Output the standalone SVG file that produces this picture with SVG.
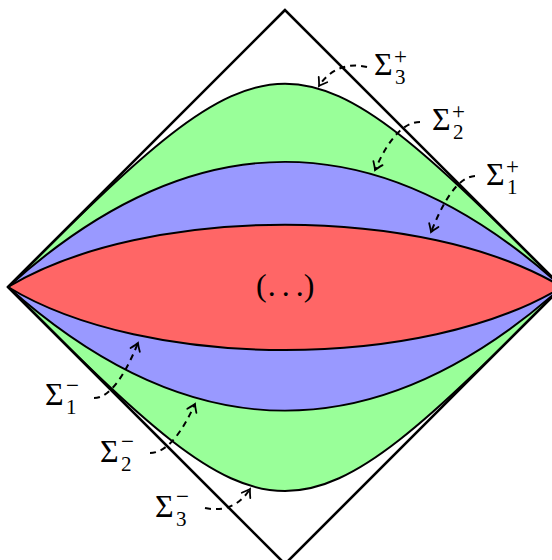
<svg xmlns="http://www.w3.org/2000/svg" width="552" height="560" viewBox="0 0 552 560">
<style>
.lens{stroke:#000;stroke-width:2;stroke-linejoin:round}
.frame{fill:none;stroke:#000;stroke-width:2.6;stroke-linejoin:miter}
.arr{fill:none;stroke:#000;stroke-width:2;stroke-dasharray:6 5;marker-end:url(#ah)}
.s{font-family:"Liberation Serif","DejaVu Serif",serif;font-size:32px;fill:#000}
.sub{font-family:"Liberation Serif","DejaVu Serif",serif;font-size:21px;fill:#000}
.sup{font-family:"Liberation Serif","DejaVu Serif",serif;font-size:23px;fill:#000}
</style>
<defs>
<marker id="ah" markerUnits="userSpaceOnUse" markerWidth="14" markerHeight="14" viewBox="-9 -7 11 14" refX="0" refY="0" orient="auto">
<path d="M -7.5,-5 Q -2,-1 0,0 Q -2,1 -7.5,5" fill="none" stroke="#000" stroke-width="1.8" stroke-dasharray="none" stroke-linecap="round"/>
</marker>
</defs>
<rect width="552" height="560" fill="#fff"/>
<g id="green-region"><path class="lens" fill="#99FF99" d="M 8,287 C 279,16 291,16 562,287 C 291,559 279,559 8,287 Z"/></g>
<g id="blue-region"><path class="lens" fill="#9999FF" d="M 8,287 C 193,120 377,120 562,287 C 377,452 193,452 8,287 Z"/></g>
<g id="red-region"><path class="lens" fill="#FF6666" d="M 8,287 C 146,204 424,204 562,287 C 424,371 146,371 8,287 Z"/></g>
<g id="frame"><polygon class="frame" points="285,10 8,287 285,564 562,287"/></g>
<g id="center-label"><text class="s" x="256" y="296">(<tspan dx="1">.</tspan><tspan dx="6">.</tspan><tspan dx="6">.</tspan><tspan dx="0">)</tspan></text></g>
<g id="connectors">
<path class="arr" d="M 367,67 C 347,62 329,70 319,86"/>
<path class="arr" d="M 420,122 C 403,122 388,140 375,170"/>
<path class="arr" d="M 475,176 C 458,177 444,200 431,232"/>
<path class="arr" d="M 94,398 C 110,398 125,375 138,343"/>
<path class="arr" d="M 150,453 C 168,453 183,430 195,404"/>
<path class="arr" d="M 205,508 C 225,512 240,505 250,489"/>
</g>
<g id="sigma3p"><text class="s" x="374" y="75">Σ</text><text class="sub" x="395" y="84">3</text><text class="sup" x="394" y="64">+</text></g>
<g id="sigma2p"><text class="s" x="432" y="130">Σ</text><text class="sub" x="453" y="139">2</text><text class="sup" x="452" y="119">+</text></g>
<g id="sigma1p"><text class="s" x="486" y="185">Σ</text><text class="sub" x="507" y="194">1</text><text class="sup" x="506" y="174">+</text></g>
<g id="sigma1m"><text class="s" x="45" y="405">Σ</text><text class="sub" x="66" y="414">1</text><text class="sup" x="66" y="393">−</text></g>
<g id="sigma2m"><text class="s" x="100" y="462">Σ</text><text class="sub" x="121" y="471">2</text><text class="sup" x="121" y="449">−</text></g>
<g id="sigma3m"><text class="s" x="155" y="517">Σ</text><text class="sub" x="176" y="526">3</text><text class="sup" x="176" y="504">−</text></g>
</svg>
